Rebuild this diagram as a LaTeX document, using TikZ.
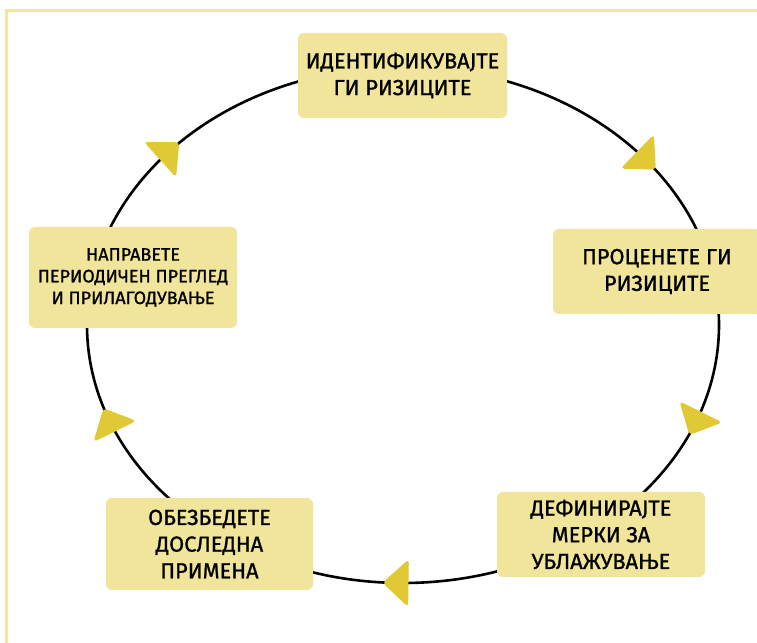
\documentclass[tikz,border=0pt]{standalone}
\usepackage{fontspec}
\newfontfamily\boxfont[FakeBold=1.1]{Fira Sans}
\begin{document}
\begin{tikzpicture}[x=1pt,y=1pt]
\definecolor{boxc}{HTML}{F1E49B}
\definecolor{arrc}{HTML}{E0C935}
\definecolor{framec}{HTML}{F2E6A0}
\tikzset{
  stepbox/.style={draw=none, fill=boxc, rounded corners=6pt, align=center, inner sep=0pt,
    font=\boxfont\fontsize{21.8}{26.7}\selectfont},
  smallbox/.style={stepbox, font=\boxfont\fontsize{18}{21.7}\selectfont},
  cycleline/.style={line width=2.6pt, black},
  arrowtri/.style={fill=arrc, rounded corners=4pt}
}
\useasboundingbox (0,0) rectangle (757,642);
\fill[white] (0,0) rectangle (757,642);
\draw[framec, line width=3pt] (6.2,-2) -- (6.2,631.5) -- (760,631.5);
\draw[cycleline] (403,317) ellipse [x radius=316, y radius=258];
\foreach \t in {40,-22,-91,202,138}{
  \pgfmathsetmacro\ang{atan2(-258*cos(\t),316*sin(\t))}
  \fill[arrowtri, shift={({403+316*cos(\t)},{317+258*sin(\t)})}, rotate=\ang]
    (-11,-24) -- (15,0) -- (-11,24) -- cycle;
}
\node[stepbox, minimum width=209pt, minimum height=85pt] (n1) at (402.5,566.5) {ИДЕНТИФИКУВАЈТЕ\\ГИ РИЗИЦИТЕ};
\node[stepbox, minimum width=208pt, minimum height=85pt] (n2) at (657,370.5) {ПРОЦЕНЕТЕ ГИ\\РИЗИЦИТЕ};
\node[stepbox, minimum width=208pt, minimum height=85pt] (n3) at (601,107.5) {ДЕФИНИРАЈТЕ\\МЕРКИ ЗА\\УБЛАЖУВАЊЕ};
\node[stepbox, minimum width=207pt, minimum height=92pt] (n4) at (209.5,98) {ОБЕЗБЕДЕТЕ\\ДОСЛЕДНА\\ПРИМЕНА};
\node[smallbox, minimum width=208pt, minimum height=101pt] (n5) at (133,364.5) {НАПРАВЕТЕ\\ПЕРИОДИЧЕН ПРЕГЛЕД\\И ПРИЛАГОДУВАЊЕ};
\end{tikzpicture}
\end{document}
